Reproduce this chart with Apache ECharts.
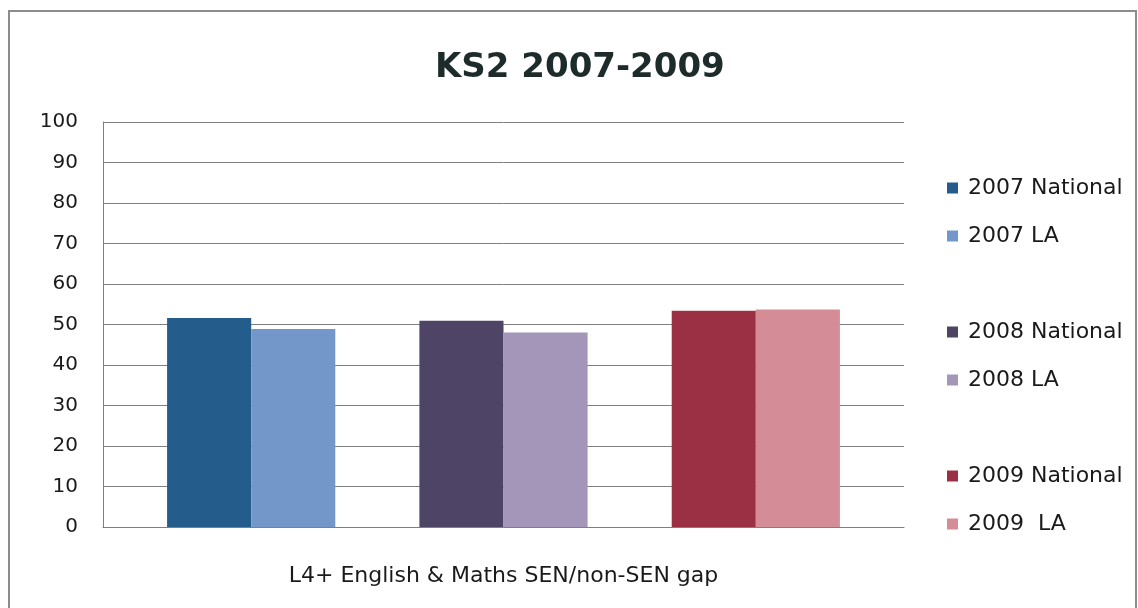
<!DOCTYPE html>
<html>
<head>
<meta charset="utf-8">
<script src="https://cdn.jsdelivr.net/npm/echarts@6/dist/echarts.min.js"></script>
<style>html,body{margin:0;padding:0;background:#fff}#c{width:1138px;height:608px}</style>
</head>
<body>
<div id="c"></div>
<script>
const categories = ['L4+ English & Maths SEN/non-SEN gap'];
const seriesNames = ['2007 National', '2007 LA', ' ', '2008 National', '2008 LA', '  ', '2009 National', '2009  LA'];
const seriesValues = [[51.6], [48.9], ['-'], [50.9], [48.0], ['-'], [53.4], [53.7]];
const seriesColors = ['#245c8b', '#7397c9', '#ffffff', '#4e4466', '#a396b8', '#ffffff', '#9b3044', '#d48d97'];
const yTicks = { min: 0, max: 100, interval: 10 };

const chart = echarts.init(document.getElementById('c'), null, { renderer: 'canvas' });
const font = 'DejaVu Sans';
const legendStyle = (names, top) => ({
  data: names,
  orient: 'vertical',
  left: 942,
  top: top,
  itemWidth: 11,
  itemHeight: 11,
  itemGap: 26,
  icon: 'rect',
  textStyle: { fontFamily: font, fontSize: 22, color: '#1a1a1a', padding: [0, 0, 0, 5] }
});
chart.setOption({
  animation: false,
  backgroundColor: '#ffffff',
  title: {
    text: 'KS2 2007-2009',
    left: 430,
    top: 46,
    textStyle: { fontFamily: font, fontSize: 34, fontWeight: 'bold', color: '#1e2b2b' }
  },
  graphic: [{
    type: 'rect',
    shape: { x: 9, y: 11, width: 1127, height: 620 },
    style: { fill: null, stroke: '#8c8c8c', lineWidth: 2 },
    silent: true
  }],
  legend: [
    legendStyle([seriesNames[0], seriesNames[1]], 172),
    legendStyle([seriesNames[3], seriesNames[4]], 316),
    legendStyle([seriesNames[6], seriesNames[7]], 460)
  ],
  grid: { left: 103, right: 234, top: 122, bottom: 81, containLabel: false },
  xAxis: {
    type: 'category',
    data: categories,
    axisLine: { show: true, lineStyle: { color: '#7f7f7f', width: 1 } },
    axisTick: { show: false },
    axisLabel: { fontFamily: font, fontSize: 22, color: '#1a1a1a', margin: 38 }
  },
  yAxis: {
    type: 'value',
    min: yTicks.min,
    max: yTicks.max,
    interval: yTicks.interval,
    axisLine: { show: true, lineStyle: { color: '#7f7f7f', width: 1 } },
    axisTick: { show: false },
    splitLine: { lineStyle: { color: '#7f7f7f', width: 1 } },
    axisLabel: { fontFamily: font, fontSize: 20, color: '#1a1a1a', margin: 25 }
  },
  series: seriesNames.map((name, i) => ({
    name: name,
    type: 'bar',
    data: seriesValues[i],
    barGap: '0%',
    barCategoryGap: '16%',
    itemStyle: { color: seriesColors[i] }
  }))
});
</script>
</body>
</html>
